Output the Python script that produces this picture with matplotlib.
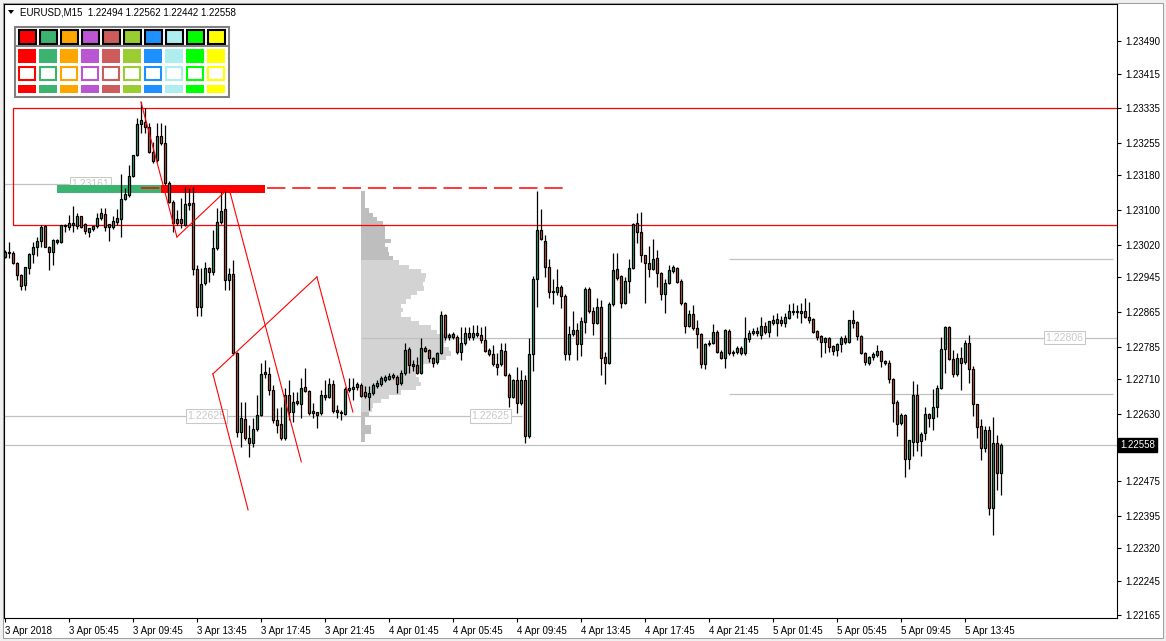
import matplotlib
matplotlib.use("Agg")
import matplotlib.pyplot as plt
from matplotlib.patches import Rectangle, Polygon
from matplotlib.transforms import blended_transform_factory
import numpy as np

plt.rcParams['font.family'] = ['Liberation Sans', 'DejaVu Sans']

W, H, DPI = 1166, 641, 100

title_text = "EURUSD,M15  1.22494 1.22562 1.22442 1.22558"

opens = [1.22992,1.23003,1.23001,1.22978,1.22950,1.22927,1.22966,1.22999,1.23015,1.23029,
1.23063,1.23015,1.23003,1.23027,1.23027,1.23063,1.23061,1.23066,1.23063,1.23087,
1.23068,1.23050,1.23057,1.23063,1.23082,1.23091,1.23068,1.23061,1.23073,1.23080,
1.23126,1.23135,1.23179,1.23227,1.23299,1.23303,1.23292,1.23234,1.23216,1.23271,
1.23255,1.23163,1.23119,1.23080,1.23080,1.23066,1.23112,1.23117,1.22964,1.22877,
1.22932,1.22966,1.22957,1.23013,1.23073,1.23103,1.22939,1.22953,1.22770,1.22588,
1.22618,1.22574,1.22563,1.22595,1.22627,1.22726,1.22722,1.22685,1.22616,1.22606,
1.22574,1.22673,1.22634,1.22660,1.22653,1.22692,1.22683,1.22636,1.22634,1.22632,
1.22673,1.22669,1.22699,1.22639,1.22634,1.22630,1.22685,1.22687,1.22692,1.22696,
1.22680,1.22669,1.22678,1.22694,1.22699,1.22708,1.22710,1.22715,1.22715,1.22701,
1.22724,1.22780,1.22745,1.22743,1.22724,1.22782,1.22777,1.22759,1.22750,1.22770,
1.22858,1.22812,1.22814,1.22807,1.22773,1.22793,1.22817,1.22807,1.22817,1.22812,
1.22800,1.22777,1.22768,1.22745,1.22745,1.22775,1.22720,1.22669,1.22708,1.22655,
1.22708,1.22579,1.22768,1.22941,1.23054,1.23029,1.22969,1.22913,1.22911,1.22923,
1.22902,1.22768,1.22814,1.22823,1.22791,1.22842,1.22918,1.22867,1.22840,1.22877,
1.22761,1.22747,1.22883,1.22964,1.22948,1.22886,1.22937,1.22966,1.23070,1.23050,
1.22997,1.22978,1.22964,1.22990,1.22955,1.22906,1.22932,1.22960,1.22966,1.22937,
1.22886,1.22833,1.22860,1.22828,1.22814,1.22745,1.22791,1.22793,1.22819,1.22773,
1.22759,1.22821,1.22773,1.22773,1.22782,1.22770,1.22803,1.22817,1.22821,1.22812,
1.22833,1.22819,1.22846,1.22840,1.22846,1.22840,1.22851,1.22865,1.22865,1.22863,
1.22867,1.22853,1.22849,1.22821,1.22810,1.22796,1.22805,1.22786,1.22777,1.22791,
1.22805,1.22796,1.22846,1.22842,1.22810,1.22770,1.22747,1.22761,1.22766,1.22775,
1.22752,1.22747,1.22710,1.22657,1.22609,1.22627,1.22526,1.22565,1.22673,1.22567,
1.22586,1.22630,1.22620,1.22646,1.22690,1.22780,1.22830,1.22756,1.22722,1.22759,
1.22750,1.22793,1.22733,1.22653,1.22602,1.22551,1.22593,1.22413,1.22563,1.22494]

highs = [1.23008,1.23027,1.23006,1.22980,1.22953,1.22969,1.23001,1.23027,1.23038,1.23066,
1.23066,1.23017,1.23033,1.23033,1.23066,1.23068,1.23089,1.23110,1.23093,1.23087,
1.23070,1.23059,1.23063,1.23093,1.23105,1.23105,1.23068,1.23087,1.23103,1.23183,
1.23151,1.23204,1.23227,1.23313,1.23350,1.23336,1.23301,1.23257,1.23301,1.23301,
1.23297,1.23167,1.23123,1.23100,1.23128,1.23153,1.23151,1.23153,1.22973,1.22966,
1.22980,1.22969,1.23054,1.23105,1.23142,1.23147,1.22966,1.22985,1.22773,1.22657,
1.22657,1.22604,1.22620,1.22673,1.22747,1.22754,1.22738,1.22696,1.22643,1.22646,
1.22690,1.22708,1.22680,1.22680,1.22713,1.22736,1.22685,1.22655,1.22634,1.22685,
1.22708,1.22713,1.22708,1.22650,1.22639,1.22692,1.22713,1.22713,1.22703,1.22701,
1.22694,1.22694,1.22701,1.22708,1.22717,1.22720,1.22724,1.22724,1.22720,1.22731,
1.22793,1.22784,1.22754,1.22761,1.22805,1.22786,1.22780,1.22761,1.22773,1.22867,
1.22860,1.22817,1.22819,1.22812,1.22830,1.22830,1.22830,1.22835,1.22835,1.22830,
1.22833,1.22782,1.22789,1.22770,1.22793,1.22793,1.22724,1.22710,1.22738,1.22731,
1.22720,1.22805,1.22948,1.23144,1.23103,1.23043,1.22987,1.22941,1.22964,1.22927,
1.22906,1.22833,1.22867,1.22840,1.22853,1.22923,1.22923,1.22877,1.22897,1.22893,
1.22773,1.22888,1.23001,1.23001,1.22950,1.22946,1.22987,1.23070,1.23093,1.23096,
1.22997,1.23017,1.23033,1.23008,1.22957,1.22941,1.22973,1.22973,1.22969,1.22941,
1.22888,1.22870,1.22881,1.22846,1.22817,1.22793,1.22800,1.22837,1.22823,1.22777,
1.22826,1.22826,1.22777,1.22786,1.22786,1.22853,1.22823,1.22828,1.22830,1.22853,
1.22842,1.22844,1.22858,1.22863,1.22856,1.22863,1.22883,1.22886,1.22881,1.22886,
1.22897,1.22888,1.22851,1.22823,1.22812,1.22807,1.22807,1.22789,1.22793,1.22810,
1.22812,1.22846,1.22870,1.22844,1.22812,1.22773,1.22763,1.22773,1.22789,1.22777,
1.22754,1.22754,1.22713,1.22662,1.22632,1.22630,1.22570,1.22706,1.22699,1.22588,
1.22646,1.22632,1.22687,1.22696,1.22807,1.22833,1.22833,1.22777,1.22770,1.22784,
1.22800,1.22812,1.22740,1.22653,1.22618,1.22602,1.22602,1.22623,1.22581,1.22562]

lows = [1.22990,1.22990,1.22976,1.22939,1.22916,1.22916,1.22953,1.22978,1.22994,1.23015,
1.23015,1.22962,1.22973,1.23022,1.23024,1.23050,1.23054,1.23050,1.23057,1.23059,
1.23045,1.23038,1.23052,1.23059,1.23077,1.23052,1.23029,1.23057,1.23066,1.23038,
1.23123,1.23130,1.23177,1.23225,1.23278,1.23278,1.23232,1.23209,1.23211,1.23250,
1.23158,1.23117,1.23050,1.23066,1.23059,1.23063,1.23100,1.22950,1.22856,1.22856,
1.22927,1.22934,1.22950,1.23008,1.23068,1.22916,1.22916,1.22766,1.22576,1.22553,
1.22570,1.22530,1.22553,1.22590,1.22625,1.22713,1.22673,1.22609,1.22586,1.22570,
1.22570,1.22616,1.22611,1.22650,1.22620,1.22680,1.22627,1.22620,1.22597,1.22627,
1.22662,1.22666,1.22632,1.22620,1.22616,1.22627,1.22680,1.22662,1.22685,1.22669,
1.22666,1.22639,1.22673,1.22690,1.22694,1.22703,1.22708,1.22710,1.22678,1.22696,
1.22720,1.22724,1.22729,1.22722,1.22722,1.22773,1.22750,1.22738,1.22745,1.22768,
1.22800,1.22800,1.22803,1.22768,1.22754,1.22789,1.22800,1.22800,1.22807,1.22793,
1.22773,1.22763,1.22740,1.22720,1.22740,1.22717,1.22646,1.22666,1.22632,1.22650,
1.22563,1.22574,1.22729,1.22877,1.23031,1.22946,1.22897,1.22883,1.22904,1.22874,
1.22754,1.22754,1.22810,1.22754,1.22763,1.22817,1.22863,1.22812,1.22837,1.22720,
1.22699,1.22745,1.22879,1.22939,1.22874,1.22883,1.22909,1.22964,1.23024,1.22980,
1.22886,1.22946,1.22962,1.22923,1.22893,1.22863,1.22930,1.22955,1.22932,1.22881,
1.22817,1.22830,1.22823,1.22782,1.22736,1.22733,1.22786,1.22791,1.22770,1.22756,
1.22736,1.22766,1.22763,1.22768,1.22766,1.22766,1.22796,1.22812,1.22810,1.22803,
1.22814,1.22807,1.22835,1.22810,1.22833,1.22830,1.22849,1.22858,1.22851,1.22840,
1.22851,1.22840,1.22817,1.22800,1.22761,1.22770,1.22773,1.22766,1.22763,1.22773,
1.22791,1.22793,1.22828,1.22800,1.22768,1.22743,1.22743,1.22754,1.22761,1.22738,
1.22743,1.22701,1.22611,1.22579,1.22604,1.22484,1.22503,1.22533,1.22544,1.22533,
1.22570,1.22600,1.22593,1.22623,1.22687,1.22724,1.22754,1.22715,1.22717,1.22685,
1.22745,1.22701,1.22625,1.22574,1.22523,1.22542,1.22396,1.22350,1.22454,1.22442]

closes = [1.23003,1.23001,1.22978,1.22950,1.22925,1.22969,1.22999,1.23015,1.23029,1.23061,
1.23015,1.23003,1.23031,1.23031,1.23066,1.23066,1.23070,1.23070,1.23087,1.23061,
1.23052,1.23059,1.23063,1.23082,1.23093,1.23061,1.23061,1.23075,1.23082,1.23126,
1.23137,1.23179,1.23227,1.23299,1.23308,1.23292,1.23234,1.23213,1.23271,1.23255,
1.23163,1.23119,1.23070,1.23070,1.23070,1.23114,1.23117,1.22964,1.22877,1.22930,
1.22966,1.22957,1.23013,1.23073,1.23098,1.22939,1.22953,1.22770,1.22588,1.22620,
1.22574,1.22563,1.22595,1.22627,1.22722,1.22722,1.22685,1.22616,1.22604,1.22574,
1.22673,1.22634,1.22657,1.22655,1.22690,1.22683,1.22632,1.22632,1.22627,1.22673,
1.22669,1.22699,1.22636,1.22634,1.22632,1.22687,1.22690,1.22692,1.22699,1.22671,
1.22671,1.22678,1.22696,1.22701,1.22713,1.22715,1.22717,1.22720,1.22699,1.22724,
1.22777,1.22743,1.22740,1.22724,1.22782,1.22775,1.22759,1.22747,1.22770,1.22858,
1.22807,1.22807,1.22807,1.22773,1.22793,1.22817,1.22807,1.22817,1.22812,1.22800,
1.22775,1.22768,1.22745,1.22738,1.22777,1.22720,1.22669,1.22708,1.22655,1.22708,
1.22579,1.22768,1.22941,1.23054,1.23033,1.22969,1.22911,1.22911,1.22923,1.22902,
1.22768,1.22814,1.22823,1.22791,1.22844,1.22918,1.22867,1.22840,1.22877,1.22759,
1.22747,1.22883,1.22962,1.22943,1.22886,1.22937,1.22966,1.23068,1.23050,1.22997,
1.22978,1.22964,1.22987,1.22955,1.22906,1.22932,1.22962,1.22969,1.22934,1.22886,
1.22833,1.22860,1.22828,1.22814,1.22745,1.22791,1.22793,1.22819,1.22773,1.22759,
1.22823,1.22770,1.22770,1.22782,1.22770,1.22805,1.22817,1.22821,1.22817,1.22833,
1.22819,1.22844,1.22840,1.22849,1.22840,1.22853,1.22867,1.22867,1.22867,1.22867,
1.22853,1.22846,1.22819,1.22807,1.22796,1.22805,1.22784,1.22775,1.22791,1.22805,
1.22796,1.22846,1.22840,1.22810,1.22770,1.22750,1.22761,1.22768,1.22775,1.22752,
1.22747,1.22710,1.22655,1.22606,1.22627,1.22526,1.22570,1.22673,1.22565,1.22583,
1.22630,1.22620,1.22646,1.22690,1.22780,1.22830,1.22756,1.22722,1.22759,1.22747,
1.22793,1.22733,1.22653,1.22600,1.22551,1.22593,1.22413,1.22563,1.22493,1.22558]

time_tick_labels = ["3 Apr 2018", "3 Apr 05:45", "3 Apr 09:45", "3 Apr 13:45", "3 Apr 17:45",
                    "3 Apr 21:45", "4 Apr 01:45", "4 Apr 05:45", "4 Apr 09:45", "4 Apr 13:45",
                    "4 Apr 17:45", "4 Apr 21:45", "5 Apr 01:45", "5 Apr 05:45", "5 Apr 09:45",
                    "5 Apr 13:45"]
time_tick_bars = [0, 16, 32, 48, 64, 80, 96, 112, 128, 144, 160, 176, 192, 208, 224, 240]

price_ticks = [1.23490, 1.23415, 1.23335, 1.23255, 1.23180, 1.23100, 1.23020, 1.22945,
               1.22865, 1.22785, 1.22710, 1.22630, 1.22475, 1.22395, 1.22320, 1.22245, 1.22165]
last_price = 1.22558

palette_colors = ['#FF0000', '#3CB371', '#FFA500', '#BA55D3', '#CD5C5C',
                  '#9ACD32', '#1E90FF', '#AFEEEE', '#00FF00', '#FFFF00']

# volume profile (bins of 1 pip from the top level downwards)
vp_top = 1.23144
vp_step = 0.0001
vp_volume = [4, 4, 4, 4, 8, 12, 16, 22, 24, 24, 24, 30, 24, 27, 28, 32, 38, 48, 60, 65,
             64, 62, 63, 56, 50, 45, 40, 42, 40, 50, 58, 70, 76, 92, 85, 83, 88, 90, 85, 70,
             62, 60, 55, 58, 60, 55, 40, 28, 20, 12, 11, 8, 4, 4, 10, 10, 4, 4]
va_high = 1.22985
va_low = 1.22634
vp_start_bar = 88.9

# drawn objects (bar index, price)
zone_rect = {'left': 1.9, 'top': 1.23335, 'bottom': 1.23066}
green_zone = {'left': 12.9, 'right': 38.9, 'top': 1.23158, 'bottom': 1.23140}
red_zone = {'left': 38.9, 'right': 64.9, 'top': 1.23158, 'bottom': 1.23140}
dashed_level = {'left': 33.9, 'right': 140.4, 'price': 1.23150}
trend_lines = [((33.9, 1.23350), (42.9, 1.23038)),
               ((42.9, 1.23038), (55.9, 1.23151)),
               ((55.9, 1.23151), (74.0, 1.22519)),
               ((51.9, 1.22722), (60.7, 1.22408)),
               ((51.9, 1.22722), (77.9, 1.22946)),
               ((77.9, 1.22946), (86.9, 1.22634))]
# gray levels: (price, from bar, to bar, label bars)
gray_levels = [(1.23161, -1.0, 15.9, [21.2]),
               (1.22625, -1.0, 129.2, [50.2, 121.2]),
               (1.22806, 88.9, 300.0, [264.7]),
               (1.22987, 180.9, 276.9, []),
               (1.22676, 180.9, 276.9, []),
               (1.22558, -1.0, 300.0, [])]

UP_COLOR = '#2FAE7C'
DOWN_COLOR = '#D9603B'
GRAY = '#C0C0C0'

fig = plt.figure(figsize=(W / DPI, H / DPI), dpi=DPI, facecolor='white')

# window frame
bg = fig.add_axes([0, 0, 1, 1], zorder=0)
bg.set_xlim(0, W); bg.set_ylim(H, 0); bg.axis('off')
bg.add_patch(Rectangle((0, 0), W, H, facecolor='#F0F0F0', edgecolor='none'))
bg.add_patch(Rectangle((3, 3), W - 6, H - 6, facecolor='white', edgecolor='#A0A0A0', lw=0.75))

px_l, px_r, px_t, px_b = 4, 1117, 4, 618
ax = fig.add_axes([px_l / W, 1 - px_b / H, (px_r - px_l) / W, (px_b - px_t) / H], zorder=1)
ax.set_facecolor('white')

n = len(closes)
x = np.arange(n)
o = np.array(opens); h = np.array(highs); l = np.array(lows); c = np.array(closes)

ax.set_xlim((px_l - 5.3) / 4, (px_r - 5.3) / 4)
ax.set_ylim(1.23585 - 0.00002308 * px_b, 1.23585 - 0.00002308 * px_t)

# volume profile
for k, v in enumerate(vp_volume):
    top = vp_top - k * vp_step
    bottom = top - vp_step
    mid = (top + bottom) / 2
    col = '#D3D3D3' if va_low <= mid <= va_high else '#BEBEBE'
    ax.add_patch(Rectangle((vp_start_bar, bottom), v / 4.0, vp_step,
                           facecolor=col, edgecolor='none', zorder=1))

# gray levels with labels
for price, x0, x1, lbl_bars in gray_levels:
    ax.plot([x0, x1], [price, price], color=GRAY, lw=0.9, zorder=1.5, solid_capstyle='butt')
    for lb in lbl_bars:
        ax.text(lb, price, f"{price:.5f}", fontsize=7.5, color='#C8C8C8', ha='center', va='center',
                zorder=2, bbox=dict(boxstyle='square,pad=0.15', facecolor='white', edgecolor='#C8C8C8', lw=0.75))

# zone rectangle
ax.add_patch(Rectangle((zone_rect['left'], zone_rect['bottom']), 400, zone_rect['top'] - zone_rect['bottom'],
                       fill=False, edgecolor='red', lw=0.9, zorder=2))
ax.add_patch(Rectangle((green_zone['left'], green_zone['bottom']), green_zone['right'] - green_zone['left'],
                       green_zone['top'] - green_zone['bottom'], facecolor='#3CB371', edgecolor='none', zorder=2))
ax.plot([dashed_level['left'], dashed_level['right']], [dashed_level['price']] * 2, color='red', lw=1.1,
        dashes=(12, 4.5), zorder=2.2)
ax.add_patch(Rectangle((red_zone['left'], red_zone['bottom']), red_zone['right'] - red_zone['left'],
                       red_zone['top'] - red_zone['bottom'], facecolor='red', edgecolor='none', zorder=2.5))

for (xa, ya), (xb, yb) in trend_lines:
    ax.plot([xa, xb], [ya, yb], color='red', lw=0.8, zorder=5)

# candles
ax.vlines(x, l, h, color='black', lw=0.9, zorder=3)
up = c >= o
body_bottom = np.minimum(o, c)
body_h = np.maximum(np.abs(c - o), 0.000004)
ax.bar(x, body_h, bottom=body_bottom, width=0.55, color=np.where(up, UP_COLOR, DOWN_COLOR),
       edgecolor='black', linewidth=0.9, zorder=4)

# axes styling
for s in ax.spines.values():
    s.set_color('black'); s.set_linewidth(0.8)
ax.yaxis.tick_right()
ax.set_yticks(price_ticks)
ax.set_yticklabels([f"{p:.5f}" for p in price_ticks])
ax.tick_params(axis='y', which='both', length=3, width=0.8, pad=3, labelsize=7, colors='black')
ax.set_xticks(time_tick_bars)
ax.set_xticklabels(time_tick_labels)
ax.tick_params(axis='x', length=3, width=0.8, pad=3, labelsize=7, colors='black')
for t in ax.get_xticklabels():
    t.set_horizontalalignment('left')

tr = blended_transform_factory(ax.transAxes, ax.transData)
ax.text(1.003, last_price, f"{last_price:.5f}", transform=tr, fontsize=7, color='white', ha='left',
        va='center', zorder=10, clip_on=False,
        bbox=dict(boxstyle='square,pad=0.2', facecolor='black', edgecolor='black'))

# overlay: title and palette
ov = fig.add_axes([0, 0, 1, 1], zorder=5)
ov.set_xlim(0, W); ov.set_ylim(H, 0); ov.axis('off')
ov.patch.set_alpha(0)
ov.add_patch(Polygon([(8, 10), (14, 10), (11, 14)], closed=True, facecolor='black', edgecolor='none'))
ov.text(20, 12.5, title_text, fontsize=7, color='black', ha='left', va='center')

ov.add_patch(Rectangle((14.5, 26.5), 214, 70, facecolor='white', edgecolor='#808080', lw=1.5))
ov.plot([15, 228], [46, 46], color='#808080', lw=1.5)
for k, col in enumerate(palette_colors):
    x0 = 18.5 + 21 * k
    ov.add_patch(Rectangle((x0, 30), 17, 14, facecolor=col, edgecolor='black', lw=1.5))
    ov.add_patch(Rectangle((x0 - 0.5, 49), 18, 14, facecolor=col, edgecolor='none'))
    ov.add_patch(Rectangle((x0 + 0.5, 66.5), 16, 13, facecolor='white', edgecolor=col, lw=1.5))
    ov.add_patch(Rectangle((x0 - 0.5, 85), 18, 8, facecolor=col, edgecolor='none'))

fig.savefig('out.png', dpi=DPI, facecolor=fig.get_facecolor())
